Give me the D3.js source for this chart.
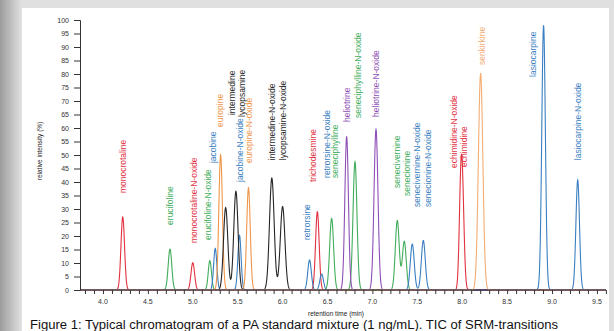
<!DOCTYPE html>
<html><head><meta charset="utf-8">
<script src="https://cdn.jsdelivr.net/npm/d3@7/dist/d3.min.js"></script>
<style>html,body{margin:0;padding:0;background:#fff;overflow:hidden}text{font-family:"Liberation Sans",Arial,sans-serif}</style>
</head><body>
<svg id="c" width="614" height="331"></svg>
<script>
// ---- data ----
const compounds = ["monocrotaline","erucifoline","monocrotaline-N-oxide","erucifoline-N-oxide","jacobine","europine","intermedine","lycopsamine","jacobine-N-oxide","europine-N-oxide","intermedine-N-oxide","lycopsamine-N-oxide","retrorsine","trichodesmine","retrorsine-N-oxide","seneciphylline","heliotrine","seneciphylline-N-oxide","heliotrine-N-oxide","senecivernine","senecionine","senecivernine-N-oxide","senecionine-N-oxide","echimidine-N-oxide","echimidine","senkirkine","lasiocarpine","lasiocarpine-N-oxide"];
const retentionTimes = [4.22,4.746,5.0,5.19,5.25,5.31,5.366,5.48,5.52,5.62,5.88,6.0,6.30,6.387,6.435,6.546,6.713,6.806,7.04,7.277,7.355,7.444,7.567,7.98,8.0,8.205,8.906,9.286];
const intensities = [27,15.2,10.1,10.9,15.4,50,30.5,36.5,20.2,37.8,41.4,30.9,11.1,29,5.9,26.5,56.8,47.5,59.5,25.7,18,17,18.3,19.5,38,80.2,98,40.7];
const peakWidths = [0.02,0.02,0.02,0.018,0.018,0.02,0.024,0.024,0.018,0.02,0.026,0.026,0.02,0.02,0.02,0.022,0.02,0.022,0.022,0.022,0.022,0.022,0.022,0.017,0.02,0.025,0.02,0.02];
const traceGroup = ["red","green","red","green","blue","orange","black","black","blue","orange","black","black","blue","red","blue","green","purple","green","purple","green","green","blue","blue","red","red","lightorange","blue","blue"];
const labelTimes = [4.223,4.746,5.013,5.169,5.225,5.303,5.433,5.548,5.526,5.629,5.879,6.001,6.272,6.335,6.491,6.584,6.720,6.843,7.040,7.271,7.385,7.493,7.623,7.912,8.020,8.217,8.785,9.293];
const labelLevels = [35.9,24.1,17.4,18.5,47.0,60.4,64.8,64.1,40.0,47.0,48.1,48.1,18.5,40.0,41.5,41.5,62.2,63.7,64.1,37.8,34.8,30.7,30.7,45.2,45.6,83.3,78.9,48.1];
const xTickValues = [4.0,4.5,5.0,5.5,6.0,6.5,7.0,7.5,8.0,8.5,9.0,9.5];
const xTickLabels = ["4.0","4.5","5.0","5.5","6.0","6.5","7.0","7.5","8.0","8.5","9.0","9.5"];
const yTickValues = [0,5,10,15,20,25,30,35,40,45,50,55,60,65,70,75,80,85,90,95,100];
const xTitle = "retention time (min)";
const yTitle = "relative intensity (%)";
const caption = "Figure 1: Typical chromatogram of a PA standard mixture (1 ng/mL). TIC of SRM-transitions";

// ---- styles ----
const colors = {red:"#e2323f",green:"#41ad5b",blue:"#3a7fc1",orange:"#f0964a",lightorange:"#f2ac74",black:"#262626",purple:"#8e4fb5"};

const svg = d3.select("#c");
const defs = svg.append("defs");
const g1 = defs.append("linearGradient").attr("id","lg").attr("x1","0").attr("x2","1").attr("y1","0").attr("y2","0");
g1.append("stop").attr("offset","0").attr("stop-color","#9c9c9c");
g1.append("stop").attr("offset","1").attr("stop-color","#e2e2e2");
svg.append("rect").attr("width",614).attr("height",331).attr("fill","#e0e0e0");
svg.append("rect").attr("width",22).attr("height",331).attr("fill","url(#lg)");
svg.append("rect").attr("x",22).attr("y",8).attr("width",587).attr("height",323).attr("fill","#fff");

const x = d3.scaleLinear().domain([3.744,9.6]).range([80,605.9]);
const y = d3.scaleLinear().domain([0,100]).range([290,20]);

// traces per colour group
const groups = Array.from(new Set(traceGroup));
const samples = d3.range(3.75,9.6,0.002);
const line = d3.line().x(d=>x(d[0])).y(d=>y(d[1]));
groups.forEach(gname=>{
  const idx = traceGroup.map((g,i)=>g===gname?i:-1).filter(i=>i>=0);
  const pts = samples.map(t=>{
    let v=0;
    idx.forEach(i=>{const z=(t-retentionTimes[i])/peakWidths[i]; v+=intensities[i]*Math.exp(-0.5*z*z);});
    return [t,v];
  });
  svg.append("path").attr("d",line(pts)).attr("fill","none").attr("stroke",colors[gname]).attr("stroke-width",1.1);
});

// y axis
const ya = svg.append("g").attr("transform","translate(80,0)")
  .call(d3.axisLeft(y).tickValues(yTickValues).tickSize(6).tickPadding(5).tickFormat(d3.format("d")));
ya.select(".domain").attr("stroke","#333");
ya.selectAll(".tick line").attr("stroke","#333");
ya.selectAll("text").attr("font-size",7).attr("fill","#333").style("font-family","Liberation Sans, Arial");

// x axis
const xa = svg.append("g").attr("transform","translate(0,290)")
  .call(d3.axisBottom(x).tickValues(d3.range(38,97).map(d=>d/10)).tickSize(4).tickFormat(""));
xa.select(".domain").attr("stroke","#2d3440").attr("d","M80,0H606");
xa.selectAll(".tick line").attr("stroke","#333");
const xl = svg.append("g");
xTickValues.forEach((v,i)=>{
  xl.append("text").attr("x",x(v)).attr("y",304).attr("text-anchor","middle").attr("font-size",7).attr("fill","#333").text(xTickLabels[i]);
});

svg.append("text").attr("x",336).attr("y",316).attr("text-anchor","middle").attr("font-size",6.5).attr("fill","#222").text(xTitle);
svg.append("text").attr("transform","translate(42,151) rotate(-90)").attr("text-anchor","middle").attr("font-size",6.5).attr("fill","#222").text(yTitle);

// peak labels
compounds.forEach((c,i)=>{
  svg.append("text").attr("transform",`translate(${x(labelTimes[i])},${y(labelLevels[i])}) rotate(-90)`)
    .attr("dy","0.35em").attr("font-size",8.5).attr("fill",colors[traceGroup[i]]).text(c);
});

svg.append("text").attr("x",30).attr("y",329).attr("font-size",12.5).attr("fill","#111")
  .attr("textLength",528).attr("lengthAdjust","spacingAndGlyphs").text(caption);
</script>
</body></html>
